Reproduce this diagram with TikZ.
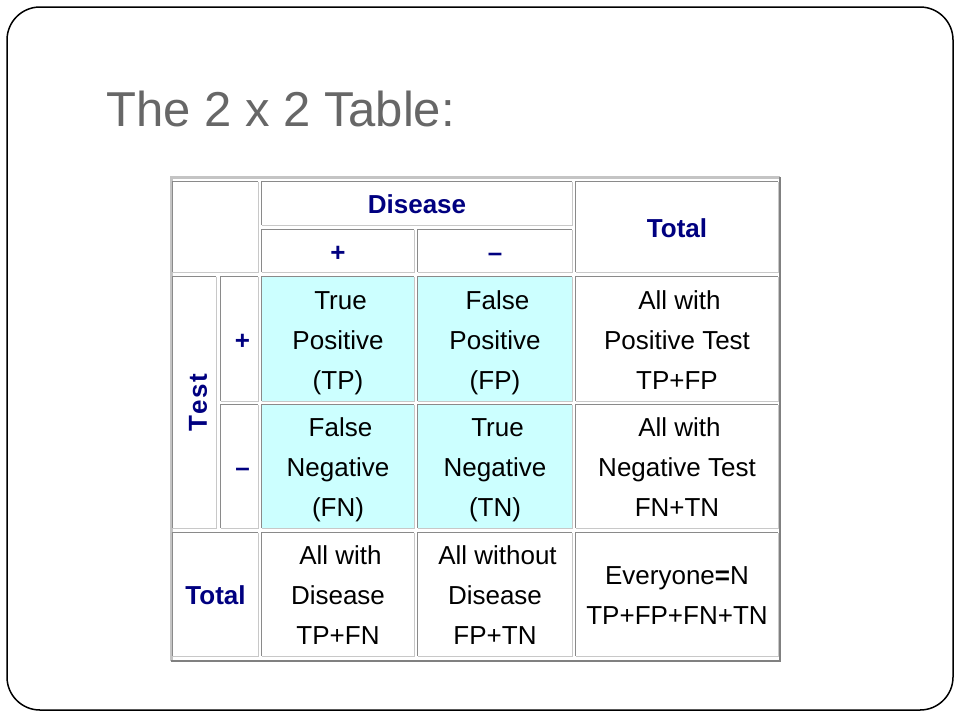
\documentclass[tikz,border=0pt]{standalone}
\usepackage{fontspec}
\setmainfont{Liberation Sans}
\definecolor{navy}{HTML}{000080}
\definecolor{cellcyan}{HTML}{CCFFFF}
\definecolor{titlegray}{HTML}{676767}
\definecolor{bdark}{HTML}{8A8A8A}
\definecolor{blight}{HTML}{C8C8C8}
\definecolor{odark}{HTML}{808080}
\definecolor{olight}{HTML}{C4C4C4}
\newcommand{\tstrut}{\rule{0pt}{27pt}}
\newcommand{\bstrut}{\rule[-7pt]{0pt}{7pt}}
\tikzset{
  cell/.style 2 args={rectangle, inner sep=0pt, minimum width=#1, minimum height=#2, fill=white, align=center,
    font=\fontsize{26}{40}\selectfont, text=black},
  hcell/.style 2 args={cell={#1}{#2}, font=\fontsize{26}{30}\selectfont\bfseries, text=navy},
  cyan/.style={fill=cellcyan},
  edgedark/.style={draw=bdark, line width=1.2pt},
  edgelight/.style={draw=blight, line width=1.2pt},
}
\begin{document}
\begin{tikzpicture}[x=1pt,y=-1pt]
\useasboundingbox (0,0) rectangle (960,720);
\fill[white] (0,0) rectangle (960,720);
\draw[line width=1.5pt, rounded corners=33pt] (7,7) rectangle (953,710);
\node[anchor=base west, font=\fontsize{49}{52}\selectfont, text=titlegray, inner sep=0pt] (title) at (106,126) {The 2 x 2 Table:};
% outer table frame
\coordinate (otl) at (171.25,177.25);
\coordinate (otr) at (779.75,177.25);
\coordinate (obl) at (171.25,660.75);
\coordinate (obr) at (779.75,660.75);
\draw[olight, line width=2.5pt] (obl) -- (otl) -- (otr);
\draw[odark, line width=2.5pt] (otr) -- (obr) -- (obl);
% cells
\node[cell={85pt}{90pt}] (corner) at (215.5,227) {};
\node[hcell={310pt}{43pt}] (disease) at (417,203.5) {\tstrut Disease\bstrut};
\node[hcell={202pt}{90pt}] (totalh) at (677,227) {\tstrut Total\bstrut};
\node[hcell={152pt}{42pt}] (dplus) at (338,251) {\tstrut +\bstrut};
\node[hcell={154pt}{42pt}] (dminus) at (495,251) {\tstrut –\bstrut};
\node[cell={43pt}{251pt}] (test) at (194.5,402.5) {};
\node[font=\fontsize{26}{30}\selectfont\bfseries, text=navy, rotate=90, inner sep=0pt] (testlbl) at (198,402.5) {T\kern1.5pt e\kern1.5pt s\kern1.5pt t};
\node[hcell={37pt}{124pt}] (tplus) at (239.5,339) {\tstrut\hspace{6pt}+\bstrut};
\node[hcell={37pt}{123pt}] (tminus) at (239.5,466.5) {\tstrut\hspace{6pt}–\bstrut};
\node[cell={152pt}{124pt}, cyan] (tp) at (338,339) {\tstrut\hspace{5pt}True\\Positive\\(TP)\bstrut};
\node[cell={154pt}{124pt}, cyan] (fp) at (495,339) {\tstrut\hspace{5pt}False\\Positive\\(FP)\bstrut};
\node[cell={202pt}{124pt}] (pos) at (677,339) {\tstrut\hspace{5pt}All with\\Positive Test\\TP+FP\bstrut};
\node[cell={152pt}{123pt}, cyan] (fn) at (338,466.5) {\tstrut\hspace{5pt}False\\Negative\\(FN)\bstrut};
\node[cell={154pt}{123pt}, cyan] (tn) at (495,466.5) {\tstrut\hspace{5pt}True\\Negative\\(TN)\bstrut};
\node[cell={202pt}{123pt}] (neg) at (677,466.5) {\tstrut\hspace{5pt}All with\\Negative Test\\FN+TN\bstrut};
\node[hcell={85pt}{123pt}] (totalr) at (215.5,594.5) {\tstrut Total\bstrut};
\node[cell={152pt}{123pt}] (alld) at (338,594.5) {\tstrut\hspace{5pt}All with\\Disease\\TP+FN\bstrut};
\node[cell={154pt}{123pt}] (allnd) at (495,594.5) {\tstrut\hspace{5pt}All without\\Disease\\FP+TN\bstrut};
\node[cell={202pt}{123pt}] (every) at (677,594.5) {\tstrut Everyone\textbf{=}N\\TP+FP+FN+TN\bstrut};
\foreach \n in {corner,disease,totalh,dplus,dminus,test,tplus,tminus,tp,fp,pos,fn,tn,neg,totalr,alld,allnd,every}{
  \draw[edgedark] (\n.south west) -- (\n.north west) -- (\n.north east);
  \draw[edgelight] (\n.north east) -- (\n.south east) -- (\n.south west);
}
\end{tikzpicture}
\end{document}
